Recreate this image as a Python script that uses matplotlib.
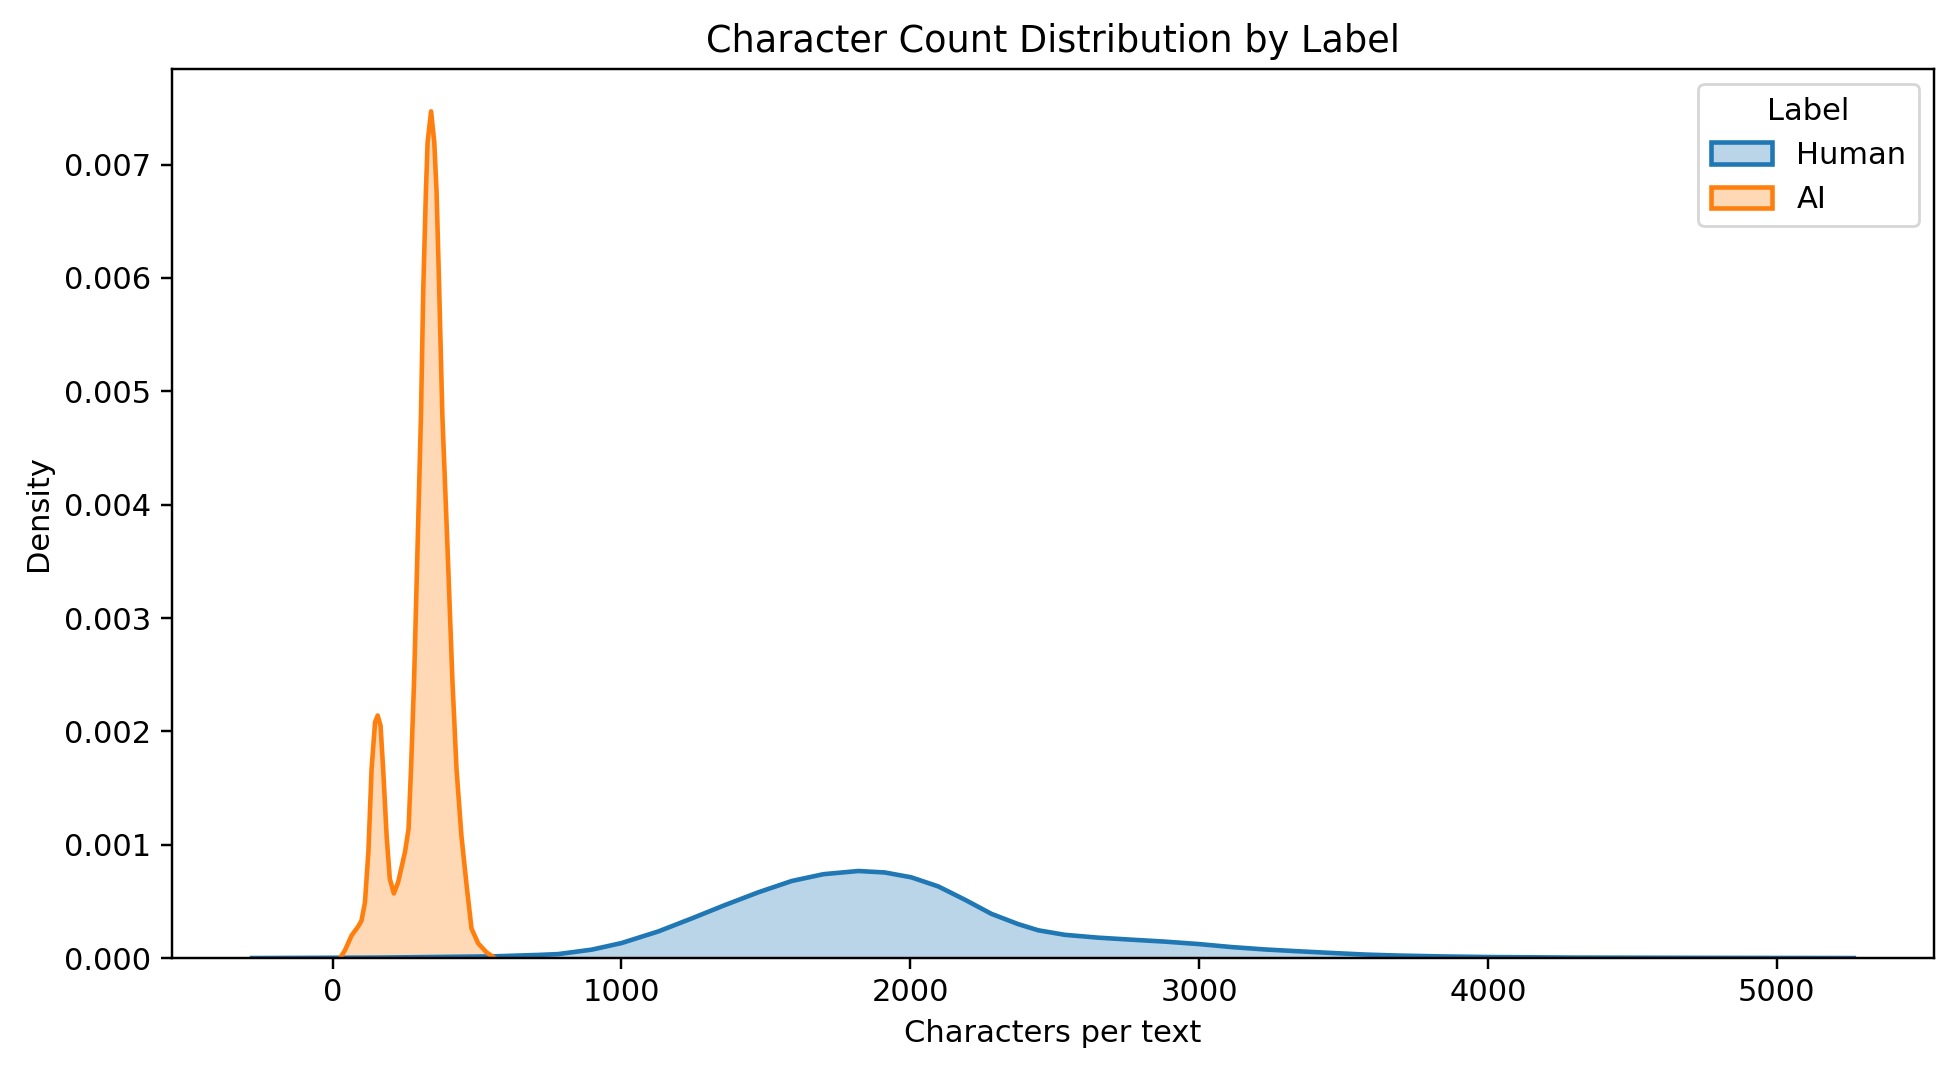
import matplotlib
matplotlib.use("Agg")
import matplotlib.pyplot as plt
from matplotlib.colors import to_rgba
from matplotlib.patches import Patch

# Density curves (x = characters per text)
human_x = [-279, 159, 557, 717, 781, 897, 1000, 1128, 1244, 1359, 1474, 1590,
           1700, 1820, 1912, 2004, 2097, 2189, 2281, 2373, 2443, 2535, 2650,
           2766, 2881, 2996, 3112, 3227, 3342, 3458, 3573, 3689, 3850, 4000,
           4300, 4700, 5267]
human_y = [0.0, 0.000004, 0.000015, 0.000028, 0.000035, 0.000074, 0.000132,
           0.000235, 0.00035, 0.000468, 0.00058, 0.00068, 0.00074, 0.000768,
           0.000755, 0.000712, 0.000632, 0.000515, 0.00039, 0.0003, 0.000245,
           0.000205, 0.00018, 0.000162, 0.000145, 0.000124, 0.000097,
           0.000076, 0.00006, 0.000045, 0.000031, 0.000022, 0.000014,
           0.000009, 0.000004, 0.000002, 0.0]

ai_x = [26, 43, 66, 89, 100, 112, 124, 135, 147, 156, 166, 175, 187, 198, 212,
        227, 251, 263, 272, 282, 294, 306, 314, 323, 329, 341, 352, 360, 369,
        380, 398, 415, 429, 446, 464, 481, 504, 533, 562]
ai_y = [0.0, 0.00007, 0.0002, 0.00028, 0.00033, 0.00049, 0.00094, 0.00167,
        0.00208, 0.00214, 0.00205, 0.00167, 0.00108, 0.0007, 0.00057, 0.00067,
        0.00094, 0.00114, 0.0017, 0.00244, 0.00361, 0.00479, 0.00591, 0.00676,
        0.0072, 0.00747, 0.0072, 0.00676, 0.00591, 0.00479, 0.00361, 0.00244,
        0.00167, 0.00108, 0.00064, 0.00026, 0.00013, 0.00005, 0.0]

labels = ["Human", "AI"]
colors = ["#1f77b4", "#ff7f0e"]

scale = 1.1
plt.rcParams.update({
    "font.size": 10 * scale,
    "axes.titlesize": 12 * scale,
    "axes.linewidth": 0.8 * scale,
    "xtick.major.size": 3.5 * scale,
    "ytick.major.size": 3.5 * scale,
    "xtick.major.width": 0.8 * scale,
    "ytick.major.width": 0.8 * scale,
})

fig = plt.figure(figsize=(9.78, 5.36), dpi=200)
ax = fig.add_axes([0.0879, 0.1063, 0.9008, 0.8293])

for xs, ys, c in [(human_x, human_y, colors[0]), (ai_x, ai_y, colors[1])]:
    ax.fill_between(xs, ys, 0, color=c, alpha=0.3, linewidth=0)
    ax.plot(xs, ys, color=c, linewidth=1.5 * scale)

ax.set_ylim(bottom=0)
ax.set_title("Character Count Distribution by Label")
ax.set_xlabel("Characters per text")
ax.set_ylabel("Density")

handles = [Patch(facecolor=to_rgba(c, 0.3), edgecolor=c, linewidth=1.5 * scale)
           for c in colors]
ax.legend(handles, labels, title="Label", loc="upper right")

fig.savefig("out.png", dpi=200)
